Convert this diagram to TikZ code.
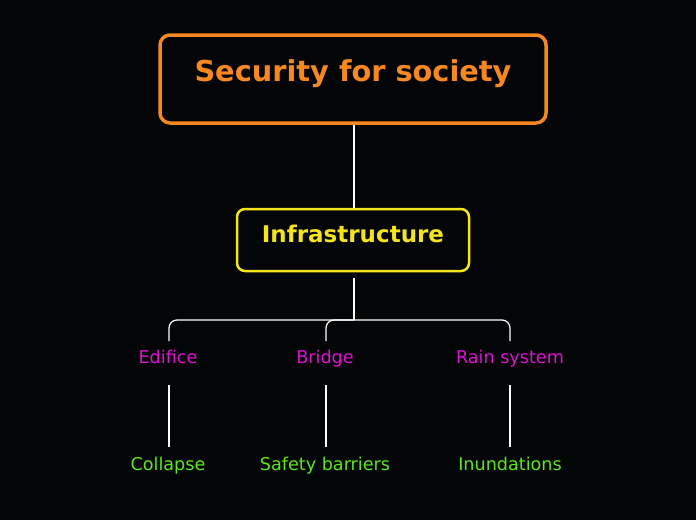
\documentclass[tikz,border=0pt]{standalone}
\usepackage{fontspec}
\setmainfont{DejaVu Sans}
\definecolor{bg}{HTML}{040507}
\definecolor{org}{HTML}{F7881F}
\definecolor{yel}{HTML}{F5E41B}
\definecolor{mag}{HTML}{E010D0}
\definecolor{grn}{HTML}{5BE818}
\begin{document}
\begin{tikzpicture}[x=1pt,y=-1pt,
  every node/.style={text height=0.76em,text depth=0.22em},
  lvltwo/.style={text=mag,font=\fontsize{17.6}{20}\selectfont},
  lvlthree/.style={text=grn,font=\fontsize{17.6}{20}\selectfont},
  conn/.style={draw=white,line width=1.2pt}]
\fill[bg] (0,0) rectangle (696,520);
\useasboundingbox (0,0) rectangle (696,520);
\node[draw=org,line width=3.5pt,rounded corners=10pt,minimum width=386pt,minimum height=88pt,text=org,font=\bfseries\fontsize{28.8}{32}\selectfont] (root) at (353,79) {Security for society};
\node[draw=yel,line width=2.5pt,rounded corners=8pt,minimum width=232pt,minimum height=62pt,text=yel,font=\bfseries\fontsize{23}{26}\selectfont] (inf) at (353,240) {Infrastructure};
\draw[white,line width=2.5pt] (root.south -| 354,0) -- (inf.north -| 354,0);
\node[lvltwo] (e) at (168,361) {Edifice};
\node[lvltwo] (b) at (325,361) {Bridge};
\node[lvltwo] (r) at (510,361) {Rain system};
\node[lvlthree] (c) at (168,468) {Collapse};
\node[lvlthree] (s) at (325,468) {Safety barriers};
\node[lvlthree] (i) at (510,468) {Inundations};
\coordinate (j) at (354,320);
\draw[conn] (354,278) -- (j);
\draw[conn,rounded corners=8pt] (169,341) -- (169,320) -- (510,320) -- (510,341);
\draw[conn,rounded corners=8pt] (326,341) -- (326,320) -- (354,320);
\draw[conn] (169,385) -- (169,447);
\draw[conn] (326,385) -- (326,447);
\draw[conn] (510,385) -- (510,447);
\end{tikzpicture}
\end{document}
